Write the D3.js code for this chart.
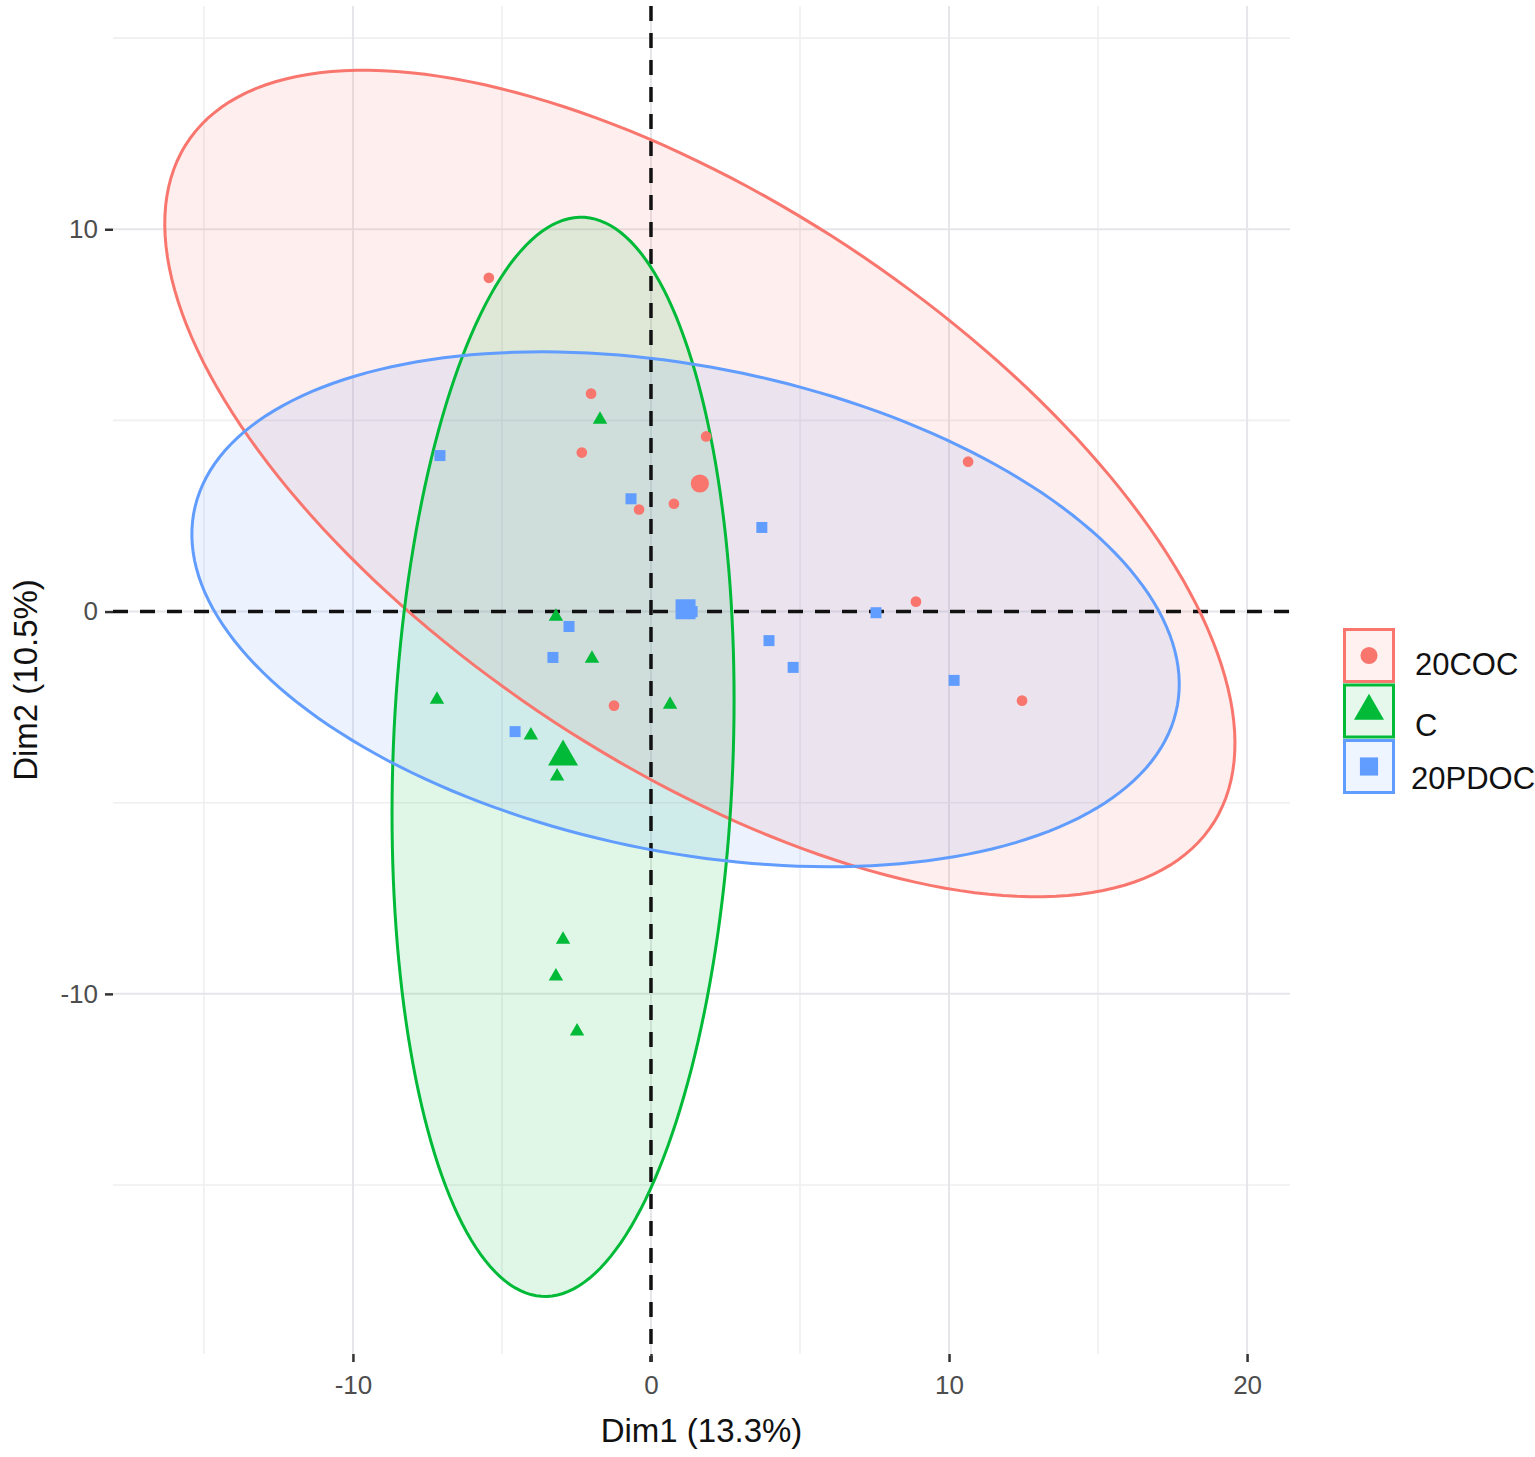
<!DOCTYPE html>
<html>
<head>
<meta charset="utf-8">
<script src="https://cdn.jsdelivr.net/npm/d3@7"></script>
<style>
  body { margin: 0; background: #fff; }
  svg { display: block; }
  text { font-family: "Liberation Sans", Arial, sans-serif; }
</style>
</head>
<body>
<svg id="chart" width="1535" height="1457"></svg>
<script>
// groups and colours (ggplot hue palette)
const groups = ["20COC", "C", "20PDOC"];
const groupColors = ["#F8766D", "#00BA38", "#619CFF"];
const groupShapes = [d3.symbolCircle, d3.symbolTriangle, d3.symbolSquare];

// individuals
const cocDim1 = [-5.44, -2.01, -2.32, 1.85, 10.64, 0.77, -0.40, 8.89, -1.24, 12.45];
const cocDim2 = [8.73, 5.70, 4.16, 4.58, 3.92, 2.82, 2.67, 0.26, -2.46, -2.33];

const cDim1 = [-1.71, -3.19, -1.98, -7.18, 0.64, -4.03, -3.15, -2.95, -3.19, -2.48];
const cDim2 = [5.02, -0.13, -1.23, -2.30, -2.43, -3.24, -4.31, -8.58, -9.54, -10.98];

const pdocDim1 = [-7.08, -0.67, 3.72, 1.38, -2.75, -3.29, 3.96, 4.77, -4.56, 7.55, 10.17];
const pdocDim2 = [4.08, 2.95, 2.20, 0.00, -0.39, -1.20, -0.76, -1.46, -3.14, -0.03, -1.80];

// group means (large markers, also ellipse centres)
const centroidDim1 = [1.64, -2.95, 1.16];
const centroidDim2 = [3.35, -3.80, 0.06];

// confidence ellipses: semi-axes and tilt in degrees
const ellipseMajor = [19.47, 14.13, 16.70];
const ellipseMinor = [7.75, 5.70, 6.39];
const ellipseAngle = [-24.95, 87.07, -7.92];

const xTicks = [-10, 0, 10, 20];
const yTicks = [-10, 0, 10];
const xMinor = [-15, -5, 5, 15];
const yMinor = [-15, -5, 5, 15];

const xLabel = "Dim1 (13.3%)";
const yLabel = "Dim2 (10.5%)";

const svg = d3.select("#chart");
const panelL = 113, panelR = 1290, panelT = 6, panelB = 1354;

const x = d3.scaleLinear().domain([-18.05, 21.44]).range([panelL, panelR]);
const y = d3.scaleLinear().domain([-19.42, 15.84]).range([panelB, panelT]);

svg.append("rect").attr("width", 1535).attr("height", 1457).attr("fill", "#fff");

// grid
const grid = svg.append("g");
grid.selectAll(".vminor").data(xMinor).enter().append("line")
  .attr("x1", d => x(d)).attr("x2", d => x(d)).attr("y1", panelT).attr("y2", panelB)
  .attr("stroke", "#efeff1").attr("stroke-width", 1.6);
grid.selectAll(".hminor").data(yMinor).enter().append("line")
  .attr("y1", d => y(d)).attr("y2", d => y(d)).attr("x1", panelL).attr("x2", panelR)
  .attr("stroke", "#efeff1").attr("stroke-width", 1.6);
grid.selectAll(".vmajor").data(xTicks).enter().append("line")
  .attr("x1", d => x(d)).attr("x2", d => x(d)).attr("y1", panelT).attr("y2", panelB)
  .attr("stroke", "#e6e6ea").attr("stroke-width", 2);
grid.selectAll(".hmajor").data(yTicks).enter().append("line")
  .attr("y1", d => y(d)).attr("y2", d => y(d)).attr("x1", panelL).attr("x2", panelR)
  .attr("stroke", "#e6e6ea").attr("stroke-width", 2);

// ellipses
function ellipsePoints(i) {
  const th = ellipseAngle[i] * Math.PI / 180;
  const a = ellipseMajor[i], b = ellipseMinor[i];
  return d3.range(0, 200).map(k => {
    const t = k / 200 * 2 * Math.PI;
    return [
      centroidDim1[i] + a * Math.cos(t) * Math.cos(th) - b * Math.sin(t) * Math.sin(th),
      centroidDim2[i] + a * Math.cos(t) * Math.sin(th) + b * Math.sin(t) * Math.cos(th)
    ];
  });
}
const ellipseLine = d3.line().x(d => x(d[0])).y(d => y(d[1])).curve(d3.curveLinearClosed);

const ell = svg.append("g");
groups.forEach((g, i) => {
  ell.append("path")
    .attr("d", ellipseLine(ellipsePoints(i)))
    .attr("fill", groupColors[i])
    .attr("fill-opacity", 0.12)
    .attr("stroke", "none");
});

// reference lines
svg.append("line")
  .attr("x1", panelL).attr("x2", panelR).attr("y1", y(0)).attr("y2", y(0))
  .attr("stroke", "#111").attr("stroke-width", 3.5).attr("stroke-dasharray", "15,12");
svg.append("line")
  .attr("x1", x(0)).attr("x2", x(0)).attr("y1", panelT).attr("y2", panelB + 8)
  .attr("stroke", "#111").attr("stroke-width", 3.5).attr("stroke-dasharray", "15,12");

const ellOutline = svg.append("g");
groups.forEach((g, i) => {
  ellOutline.append("path")
    .attr("d", ellipseLine(ellipsePoints(i)))
    .attr("fill", "none")
    .attr("stroke", groupColors[i])
    .attr("stroke-width", 3);
});

// points
const individuals = [
  d3.zip(cocDim1, cocDim2),
  d3.zip(cDim1, cDim2),
  d3.zip(pdocDim1, pdocDim2)
];
const smallSize = [90, 90, 121];
const bigSize = [260, 390, 400];

const pts = svg.append("g");
groups.forEach((g, i) => {
  pts.selectAll(".p" + i).data(individuals[i]).enter().append("path")
    .attr("class", "p" + i)
    .attr("transform", d => `translate(${x(d[0])},${y(d[1])})`)
    .attr("d", d3.symbol().type(groupShapes[i]).size(smallSize[i]))
    .attr("fill", groupColors[i]);
  pts.append("path")
    .attr("transform", `translate(${x(centroidDim1[i])},${y(centroidDim2[i])})`)
    .attr("d", d3.symbol().type(groupShapes[i]).size(bigSize[i]))
    .attr("fill", groupColors[i]);
});

// axes
const fmt = d => String(d);
const xAxis = svg.append("g").attr("transform", `translate(0,${panelB})`)
  .call(d3.axisBottom(x).tickValues(xTicks).tickSize(8).tickPadding(14).tickFormat(fmt));
const yAxis = svg.append("g").attr("transform", `translate(${panelL},0)`)
  .call(d3.axisLeft(y).tickValues(yTicks).tickSize(8).tickPadding(7).tickFormat(fmt));
[xAxis, yAxis].forEach(ax => {
  ax.select(".domain").remove();
  ax.selectAll(".tick line").attr("stroke", "#333").attr("stroke-width", 2.5);
  ax.selectAll(".tick text").attr("fill", "#4d4d4d").attr("font-size", 26)
    .style("font-family", "'Liberation Sans', Arial, sans-serif");
});

svg.append("text")
  .attr("x", (panelL + panelR) / 2).attr("y", 1442)
  .attr("text-anchor", "middle").attr("font-size", 33).attr("fill", "#111")
  .text(xLabel);
svg.append("text")
  .attr("transform", `translate(37,${(panelT + panelB) / 2}) rotate(-90)`)
  .attr("text-anchor", "middle").attr("font-size", 33).attr("fill", "#111")
  .text(yLabel);

// legend
const legendSize = [230, 390, 330];
const labelDrop = [19, 25, 22];
const leg = svg.append("g").attr("transform", "translate(1343,628)");
groups.forEach((g, i) => {
  const row = leg.append("g").attr("transform", `translate(0,${i * 55.5})`);
  row.append("rect").attr("x", 1.5).attr("y", 1.5).attr("width", 49).attr("height", 52)
    .attr("fill", groupColors[i]).attr("fill-opacity", 0.1)
    .attr("stroke", groupColors[i]).attr("stroke-width", 3);
  row.append("path")
    .attr("transform", "translate(26,27.5)")
    .attr("d", d3.symbol().type(groupShapes[i]).size(legendSize[i]))
    .attr("fill", groupColors[i]);
  row.append("text")
    .attr("x", i === 2 ? 68 : 72).attr("y", 27.5 + labelDrop[i])
    .attr("font-size", 31).attr("fill", "#111")
    .text(g);
});
</script>
</body>
</html>
